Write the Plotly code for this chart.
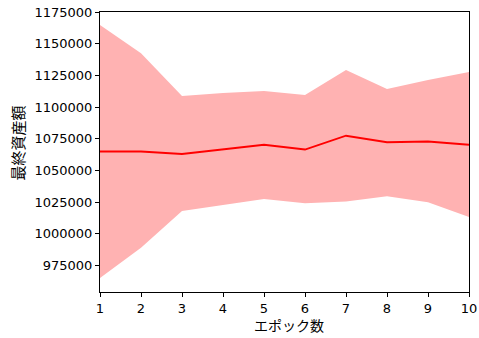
import plotly.graph_objects as go

epochs = [1, 2, 3, 4, 5, 6, 7, 8, 9, 10]
mean_values = [1064800, 1064800, 1063000, 1066700, 1070300, 1066400, 1077400, 1072200, 1072700, 1070300]
upper_values = [1164800, 1142400, 1108700, 1111100, 1112700, 1109500, 1129200, 1114300, 1121400, 1127700]
lower_values = [965000, 988900, 1018000, 1022800, 1027500, 1024100, 1025400, 1029600, 1024900, 1013100]
y_ticks = [975000, 1000000, 1025000, 1050000, 1075000, 1100000, 1125000, 1150000, 1175000]
x_ticks = [1, 2, 3, 4, 5, 6, 7, 8, 9, 10]
x_title = "エポック数"
y_title = "最終資産額"

fig = go.Figure()
fig.add_trace(go.Scatter(x=epochs, y=lower_values, mode="lines", line=dict(width=0),
                         showlegend=False, hoverinfo="skip"))
fig.add_trace(go.Scatter(x=epochs, y=upper_values, mode="lines", line=dict(width=0),
                         fill="tonexty", fillcolor="#ffb2b2", showlegend=False, hoverinfo="skip"))
fig.add_trace(go.Scatter(x=epochs, y=mean_values, mode="lines", line=dict(color="#ff0000", width=2),
                         showlegend=False))

font_family = "DejaVu Sans, Noto Sans CJK JP"
cjk = "Noto Sans CJK JP"
fig.update_layout(
    width=479, height=338,
    margin=dict(l=100, r=10, t=12, b=46),
    paper_bgcolor="white", plot_bgcolor="white",
    font=dict(family=font_family, size=13, color="#000000"),
    annotations=[
        dict(text=x_title, xref="paper", yref="paper", x=0.512, y=-0.118,
             xanchor="center", yanchor="middle", showarrow=False,
             font=dict(family=cjk, size=14, color="#000000")),
        dict(text=y_title, xref="paper", yref="paper", x=-0.2236, y=0.532,
             xanchor="center", yanchor="middle", showarrow=False, textangle=-90,
             font=dict(family=cjk, size=15, color="#000000")),
    ],
)
fig.update_xaxes(
    range=[1, 10], tickvals=x_ticks, ticktext=[str(v) for v in x_ticks],
    showgrid=False, zeroline=False, showline=True, linecolor="#000000", linewidth=1, mirror=True,
    ticks="outside", ticklen=4, tickcolor="#000000", automargin=False,
)
fig.update_yaxes(
    range=[954000, 1175000], tickvals=y_ticks, ticktext=[str(v) for v in y_ticks],
    showgrid=False, zeroline=False, showline=True, linecolor="#000000", linewidth=1, mirror=True,
    ticks="outside", ticklen=4, tickcolor="#000000", automargin=False,
)
fig.write_html("out.html", config={"displayModeBar": False},
               post_script="document.body.style.margin='0';")
